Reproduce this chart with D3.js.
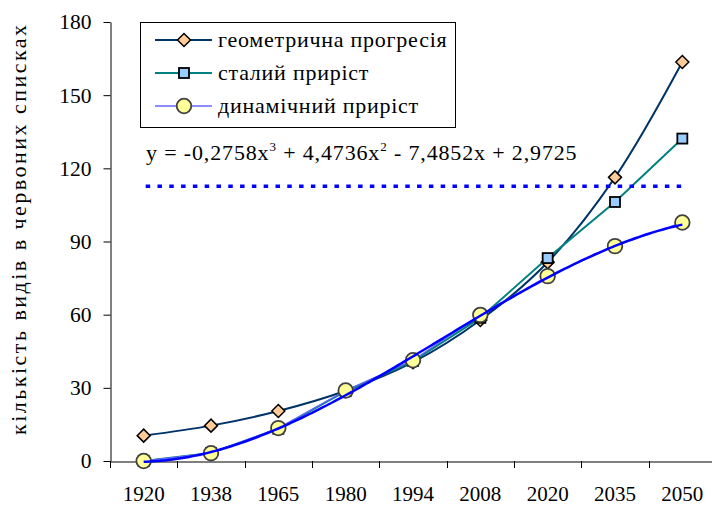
<!DOCTYPE html>
<html><head><meta charset="utf-8">
<script src="https://cdn.jsdelivr.net/npm/d3@7"></script>
<style>
body{margin:0;background:#fff}
svg{display:block}
</style>
</head><body><svg id="chart" width="712" height="508"></svg>
<script>
const years = ["1920","1938","1965","1980","1994","2008","2020","2035","2050"];
const geometric = [10.4,14.5,20.5,28.8,40.5,57.8,81.5,116.3,163.6];
const constantGrowth = [0,3.3,13.2,28.6,41,58.7,83.2,106.2,132.2];
const dynamicGrowth = [0,3.2,13.5,28.9,41.3,59.9,75.8,88.1,97.8];
const trendCoefs = [-0.2758, 4.4736, -7.4852, 2.9725];
const dottedLevel = 112.7;
const yTicks = [0,30,60,90,120,150,180];
const seriesNames = ["геометрична прогресія","сталий приріст","динамічний приріст"];
const yTitle = "кількість видів в червоних списках";

const FONT = "'Liberation Serif', 'Times New Roman', Tinos, serif";

const svg = d3.select("#chart").attr("font-family", FONT);
svg.append("rect").attr("width",712).attr("height",508).attr("fill","#fff");

const x = d3.scaleBand().domain(years).range([110,716]).padding(0);
const y = d3.scaleLinear().domain([0,180]).range([461,22]);
const cx = d => x(d) + x.bandwidth()/2;

// Y axis
const yAxis = svg.append("g").attr("transform","translate(110.5,0)")
  .call(d3.axisLeft(y).tickValues(yTicks).tickSize(7).tickSizeOuter(0).tickPadding(12));
yAxis.attr("font-family", FONT).attr("font-size", 21.5);
yAxis.selectAll("text").attr("fill","#000");
yAxis.selectAll("line,path").attr("stroke","#000");

// X axis
const xAxis = svg.append("g").attr("transform","translate(0,461.5)")
  .call(d3.axisBottom(x).tickSize(0).tickSizeOuter(0).tickPadding(25));
xAxis.attr("font-family", FONT).attr("font-size", 21);
xAxis.selectAll("text").attr("fill","#000");
xAxis.select("path").attr("stroke","#000");
const bounds = years.map(d => x(d)).concat([x.range()[1]]);
svg.append("g").selectAll("line").data(bounds).join("line")
  .attr("x1",d=>Math.round(d)+0.5).attr("x2",d=>Math.round(d)+0.5)
  .attr("y1",461).attr("y2",468).attr("stroke","#000");

// Y title
svg.append("text").attr("transform","translate(26,230) rotate(-90)")
  .attr("text-anchor","middle").attr("font-size",22)
  .attr("textLength",410).attr("lengthAdjust","spacing").text(yTitle);

const colors = {geo:"#003366", con:"#008080", dyn:"#6666FF", trend:"#0000FF"};

const smooth = d3.line().x((d,i)=>cx(years[i])).y(d=>y(d)).curve(d3.curveCatmullRom.alpha(0.5));
const straight = d3.line().x((d,i)=>cx(years[i])).y(d=>y(d));

function diamond(g, px, py){
  const s = 6.5;
  g.append("path").attr("d",`M${px},${py-s}L${px+s},${py}L${px},${py+s}L${px-s},${py}Z`)
    .attr("fill","#FFCC99").attr("stroke","#000").attr("stroke-width",1.5);
}
function square(g, px, py){
  const s = 5;
  g.append("rect").attr("x",px-s).attr("y",py-s).attr("width",2*s).attr("height",2*s)
    .attr("fill","#99CCFF").attr("stroke","#000").attr("stroke-width",1.8);
}
function circle(g, px, py){
  g.append("circle").attr("cx",px).attr("cy",py).attr("r",7.3)
    .attr("fill","#FFFF99").attr("stroke","#404040").attr("stroke-width",1.8);
}

// Series 1: geometric
const g1 = svg.append("g");
g1.append("path").attr("d",smooth(geometric)).attr("fill","none").attr("stroke",colors.geo).attr("stroke-width",2);
geometric.forEach((v,i)=>diamond(g1,cx(years[i]),y(v)));

// Series 2: constant growth
const g2 = svg.append("g");
g2.append("path").attr("d",straight(constantGrowth)).attr("fill","none").attr("stroke",colors.con).attr("stroke-width",2);
constantGrowth.forEach((v,i)=>square(g2,cx(years[i]),y(v)));

// Series 3: dynamic growth
const g3 = svg.append("g");
g3.append("path").attr("d",straight(dynamicGrowth)).attr("fill","none").attr("stroke",colors.dyn).attr("stroke-width",1.3);
dynamicGrowth.forEach((v,i)=>circle(g3,cx(years[i]),y(v)));

// Polynomial trendline (from printed equation)
const tPts = d3.range(1, 9.0001, 0.05).map(t => {
  const [a,b,c,d] = trendCoefs;
  return [t, a*t*t*t + b*t*t + c*t + d];
});
const xStep = x.step();
const trendLine = d3.line().x(d => cx(years[0]) + (d[0]-1)*xStep).y(d => y(d[1])).curve(d3.curveMonotoneX);
svg.append("path").attr("d",trendLine(tPts)).attr("fill","none").attr("stroke",colors.trend).attr("stroke-width",2.5);

// Dotted level line
svg.append("line").attr("x1",cx(years[0])+2).attr("x2",cx(years[years.length-1]))
  .attr("y1",y(dottedLevel)).attr("y2",y(dottedLevel))
  .attr("stroke","#0000FF").attr("stroke-width",3.5).attr("stroke-dasharray","4.5,7.3");

// Equation
const eq = svg.append("text").attr("x",146).attr("y",160).attr("font-size",22).attr("letter-spacing","0.85px");
eq.append("tspan").text("y = -0,2758x");
eq.append("tspan").attr("dy",-9).attr("font-size",13).text("3");
eq.append("tspan").attr("dy",9).text(" + 4,4736x");
eq.append("tspan").attr("dy",-9).attr("font-size",13).text("2");
eq.append("tspan").attr("dy",9).text(" - 7,4852x + 2,9725");

// Legend
const lg = svg.append("g");
lg.append("rect").attr("x",140.5).attr("y",22.5).attr("width",315).attr("height",105)
  .attr("fill","#fff").attr("stroke","#000").attr("stroke-width",1);
const rows = [40,73,106];
const lcols = [colors.geo, colors.con, colors.dyn];
const lw = [2,2,1.5];
const markers = [diamond, square, circle];
seriesNames.forEach((name,i)=>{
  lg.append("line").attr("x1",155).attr("x2",212).attr("y1",rows[i]).attr("y2",rows[i])
    .attr("stroke",lcols[i]).attr("stroke-width",lw[i]);
  markers[i](lg,184,rows[i]);
  lg.append("text").attr("x",218).attr("y",rows[i]).attr("dy","0.33em").attr("font-size",22)
    .attr("letter-spacing","0.75px").text(name);
});
</script>
</body></html>
